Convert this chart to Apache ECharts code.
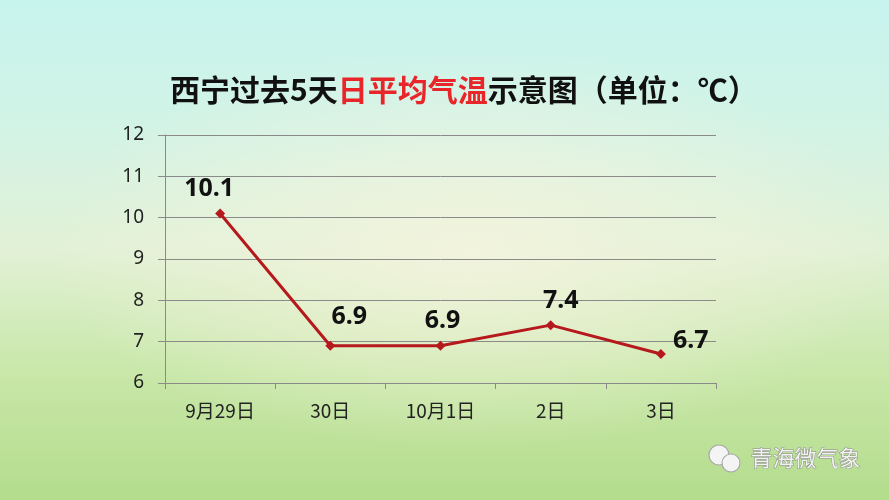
<!DOCTYPE html>
<html><head><meta charset="utf-8">
<script src="https://cdn.jsdelivr.net/npm/echarts@6/dist/echarts.min.js"></script>
<style>
html,body{margin:0;padding:0;}
#c{width:889px;height:500px;background:
 radial-gradient(ellipse 420px 200px at 470px 250px, rgba(245,244,222,0.85), rgba(245,244,222,0) 100%),
 linear-gradient(to bottom,#c8f4ef 0%,#d2f3e6 25%,#e2f1d6 50%,#c8e7a8 75%,#b3dc8c 100%);}
</style></head>
<body><div id="c"></div>
<script>
const categories = ['9月29日','30日','10月1日','2日','3日'];
const temps = [10.1, 6.9, 6.9, 7.4, 6.7];
const yTicks = [6, 7, 8, 9, 10, 11, 12];

const labelCfg = [
  {position:'top', offset:[-11,-2]},
  {position:'top', offset:[19,-6]},
  {position:'top', offset:[2,-2]},
  {position:'top', offset:[10,-2]},
  {position:'right', offset:[2,-13]}
];

const chart = echarts.init(document.getElementById('c'), null, {renderer:'canvas'});
chart.setOption({
  backgroundColor:'transparent',
  animation:false,
  title:{
    left:165, top:70,
    text:'{a|西宁过去5天}{b|日平均气温}{a|示意图（单位：℃）}',
    textStyle:{
      rich:{
        a:{fontSize:30,fontWeight:'bold',color:'#111',fontFamily:'Noto Sans CJK SC'},
        b:{fontSize:30,fontWeight:'bold',color:'#e8262a',fontFamily:'Noto Sans CJK SC'}
      }
    }
  },
  grid:{left:165, right:173, top:135, bottom:117, containLabel:false},
  xAxis:{
    type:'category', data:categories, boundaryGap:true,
    axisLine:{lineStyle:{color:'#8a8a8a',width:1}},
    axisTick:{show:true,length:6,lineStyle:{color:'#8a8a8a'}},
    axisLabel:{color:'#222',fontSize:19,fontFamily:'Noto Sans CJK SC',margin:18}
  },
  yAxis:{
    type:'value', min:yTicks[0], max:yTicks[yTicks.length-1], interval:1,
    axisLine:{show:true,lineStyle:{color:'#8a8a8a',width:1}},
    axisTick:{show:true,length:7,lineStyle:{color:'#8a8a8a'}},
    axisLabel:{color:'#222',fontSize:19,fontFamily:'Noto Sans',margin:21},
    splitLine:{show:true,lineStyle:{color:'#8a8a8a',width:1}}
  },
  series:[{
    type:'line',
    data:temps.map((v,i)=>({value:v,label:{position:labelCfg[i].position,offset:labelCfg[i].offset}})),
    symbol:'diamond', symbolSize:10,
    lineStyle:{color:'#b5191c',width:3},
    itemStyle:{color:'#b5191c'},
    label:{show:true,fontSize:25,fontWeight:'bold',color:'#111',fontFamily:'Noto Sans',distance:5}
  }],
  graphic:[
    {type:'circle',shape:{cx:719,cy:455,r:10},style:{fill:'#f4f4f4',stroke:'#aaa',lineWidth:1.2}},
    {type:'circle',shape:{cx:731,cy:463,r:9},style:{fill:'#f4f4f4',stroke:'#aaa',lineWidth:1.2}},
    {type:'text',left:750,top:446,style:{text:'青海微气象',fontSize:22,fill:'#f2f2f2',stroke:'#8a8a8a',lineWidth:1,fontFamily:'Noto Sans CJK SC'}}
  ]
});
</script></body></html>
